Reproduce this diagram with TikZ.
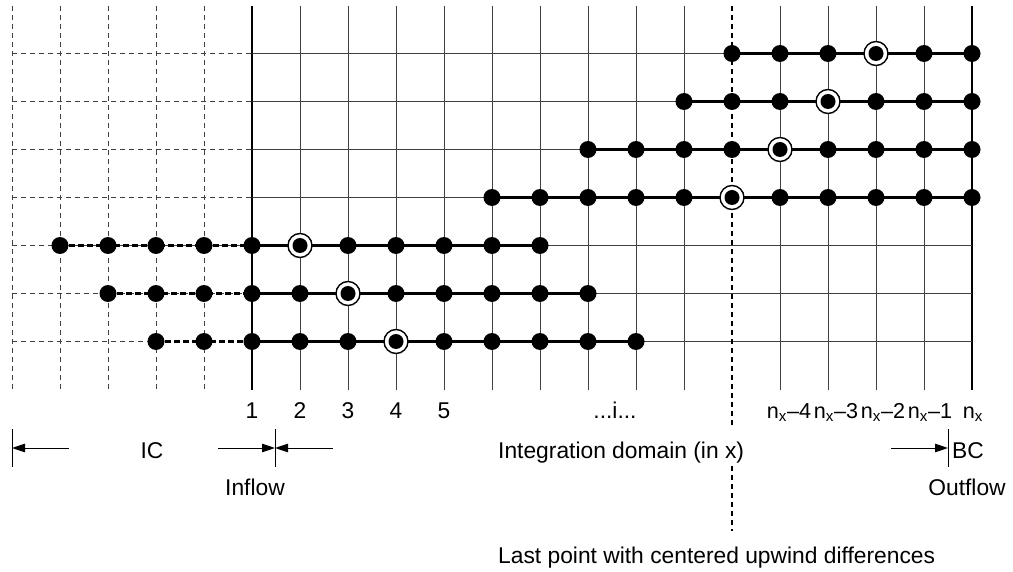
\documentclass[tikz,border=0pt]{standalone}
\usepackage{fontspec}
\setmainfont{Liberation Sans}
\usetikzlibrary{arrows.meta}
\pgfdeclarelayer{gridlayer}
\pgfdeclarelayer{rowlayer}
\pgfsetlayers{gridlayer,rowlayer,main}
\begin{document}
\begin{tikzpicture}[x=1pt,y=-1pt,
  grid/.style={line width=1pt,black!75},
  gridic/.style={grid,dash pattern=on 5pt off 4pt},
  edge/.style={line width=1.8pt,black},
  lastpt/.style={line width=2pt,dash pattern=on 5pt off 4pt},
  rowline/.style={line width=2.6pt},
  rowdash/.style={rowline,dash pattern=on 6pt off 3pt},
  dot/.style={circle,fill=black,inner sep=0pt,minimum size=17pt},
  cdot/.style={circle,draw=black,line width=1.4pt,fill=white,inner sep=0pt,minimum size=24pt,
    path picture={\fill[black] (path picture bounding box.center) circle (7.5pt);}},
  lbl/.style={font=\fontsize{22.8}{26}\selectfont,inner sep=0pt,anchor=base},
  nlbl/.style={lbl,font=\fontsize{21.6}{26}\selectfont},
  tip/.style={-{Triangle[length=13pt,width=8.5pt]},line width=1pt},
  bar/.style={line width=1pt},
]
\useasboundingbox (0,0) rectangle (1013,572);

% mesh: dashed columns for the initial-condition region, solid columns in the domain
\begin{pgfonlayer}{gridlayer}
  \foreach \k in {0,...,4}
    \draw[gridic] ({12+48*\k},6) -- ({12+48*\k},390);
  \foreach \k in {6,...,14,16,17,18,19}
    \draw[grid] ({12+48*\k},6) -- ({12+48*\k},390);
  \draw[edge] (252,6) -- (252,390);
  \draw[edge] (972,6) -- (972,390);
  \foreach \r in {0,...,6} {
    \draw[gridic] (12,{53.5+48*\r}) -- (252,{53.5+48*\r});
    \draw[grid] (252,{53.5+48*\r}) -- (972,{53.5+48*\r});
  }
\end{pgfonlayer}

% last point with centered upwind differences
\coordinate (lpA) at (732,6);
\coordinate (lpB) at (732,428);
\coordinate (lpC) at (732,466);
\coordinate (lpD) at (732,531);
\begin{pgfonlayer}{gridlayer}
  \draw[lastpt] (lpA) -- (lpB);
  \draw[lastpt] (lpC) -- (lpD);
\end{pgfonlayer}

% stencil points: row / first column / last column / centre column
\foreach \r/\a/\b/\c in {1/15/20/18, 2/14/20/17, 3/12/20/16, 4/10/20/15,
                         5/1/11/6, 6/2/12/7, 7/3/13/8} {
  \foreach \k in {\a,...,\b} {
    \ifnum\k=\c
      \node[cdot] (p\r-\k) at ({12+48*\k},{5.5+48*\r}) {};
    \else
      \node[dot] (p\r-\k) at ({12+48*\k},{5.5+48*\r}) {};
    \fi
  }
}

% stencil connections
\begin{pgfonlayer}{rowlayer}
  \foreach \r/\a/\b in {1/15/20, 2/14/20, 3/12/20, 4/10/20}
    \draw[rowline] (p\r-\a.center) -- (p\r-\b.center);
  \foreach \r/\a/\b in {5/1/11, 6/2/12, 7/3/13} {
    \draw[rowdash] (p\r-\a.center) -- (p\r-5.center);
    \draw[rowline] (p\r-5.center) -- (p\r-\b.center);
  }
\end{pgfonlayer}

% column indices
\foreach \k/\t in {5/1, 6/2, 7/3, 8/4, 9/5}
  \node[lbl] (ix\t) at ({12+48*\k},418) {\t};
\node[lbl] (ixi) at (615,418) {...i...};
\node[nlbl] (nx4) at (789,418) {n\textsubscript{x}–4};
\node[nlbl] (nx3) at (836,418) {n\textsubscript{x}–3};
\node[nlbl] (nx2) at (883,418) {n\textsubscript{x}–2};
\node[nlbl] (nx1) at (930,418) {n\textsubscript{x}–1};
\node[nlbl] (nx0) at (973,418) {n\textsubscript{x}};

% region markers
\coordinate (icL) at (12,448);
\coordinate (icLs) at (69,448);
\coordinate (icR) at (275,448);
\coordinate (icRs) at (218,448);
\coordinate (inR) at (333,448);
\coordinate (bcR) at (948,448);
\coordinate (bcRs) at (891,448);
\draw[bar] (12,429) -- (12,467);
\draw[bar] (275,429) -- (275,467);
\draw[bar] (948,429) -- (948,467);
\draw[tip] (icLs) -- (icL);
\draw[tip] (icRs) -- (icR);
\draw[tip] (inR) -- (icR);
\draw[tip] (bcRs) -- (bcR);

\node[lbl] (ic) at (152,458) {IC};
\node[lbl] (inflow) at (255,495) {Inflow};
\node[lbl,anchor=base west] (dom) at (498,458) {Integration domain (in x)};
\node[lbl] (bc) at (968,458) {BC};
\node[lbl] (outflow) at (967,495) {Outflow};
\node[lbl,anchor=base west] (last) at (498,563) {Last point with centered upwind differences};
\end{tikzpicture}
\end{document}
